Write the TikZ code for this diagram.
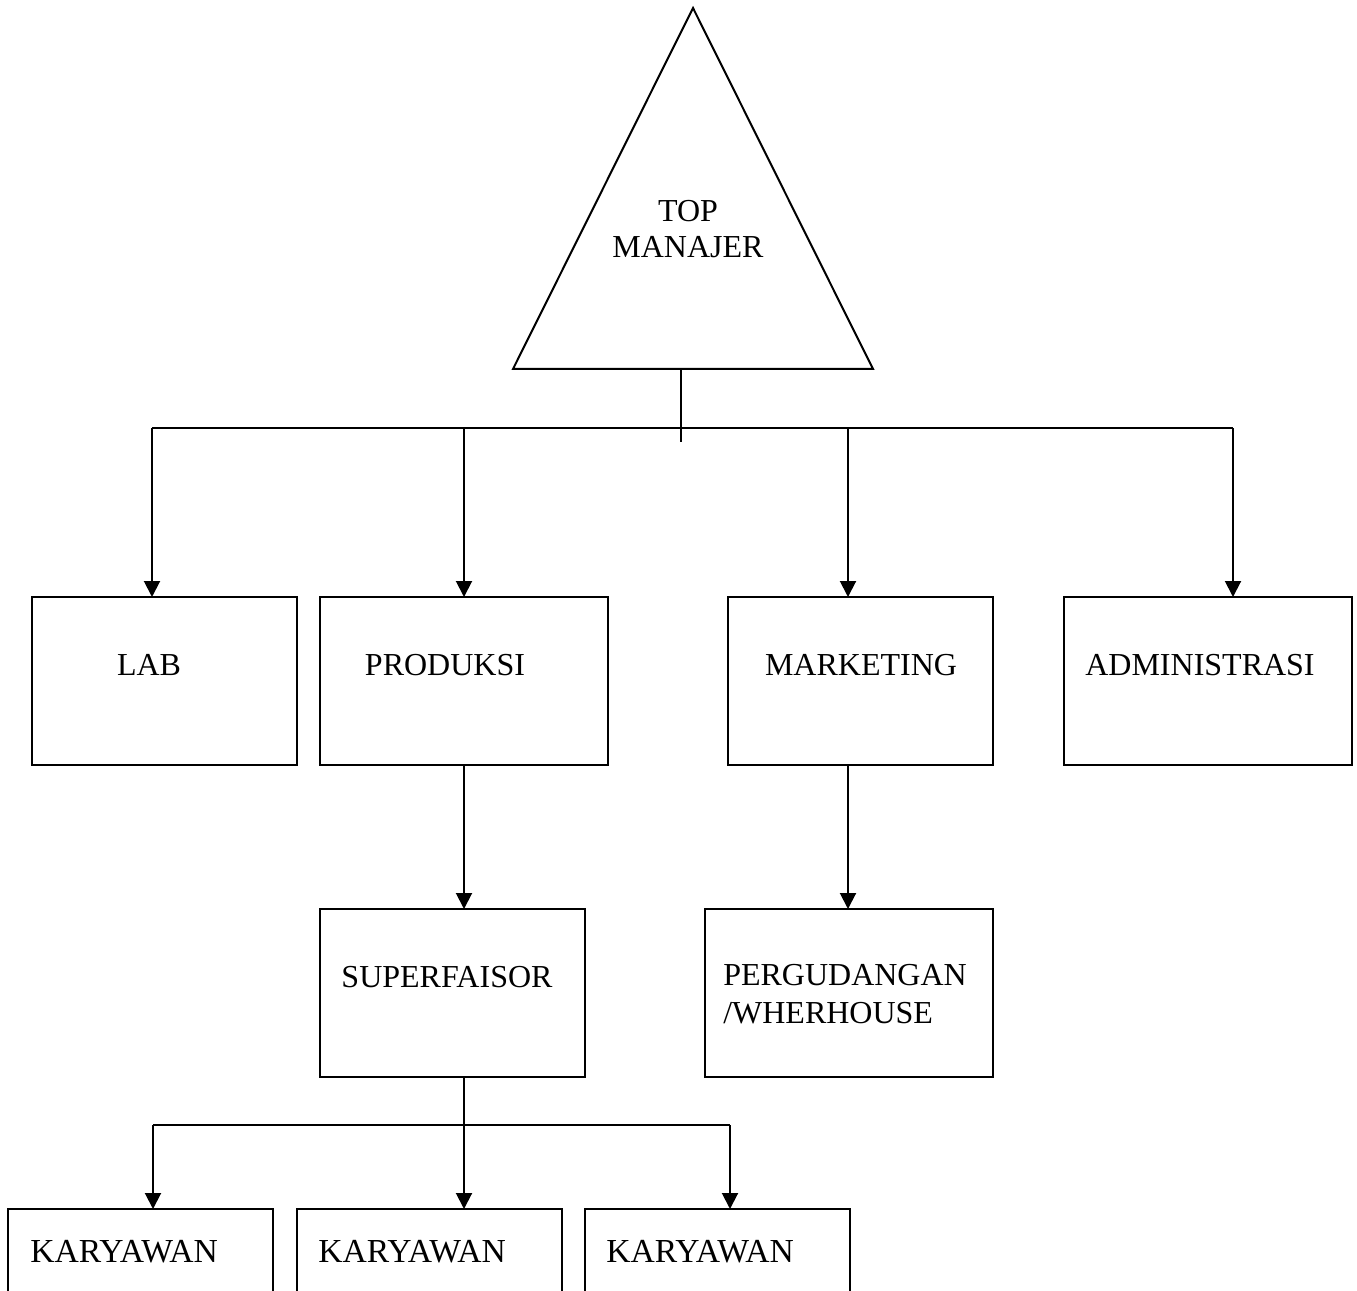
\documentclass[tikz,border=0pt]{standalone}
\usepackage{fontspec}
\setmainfont{Liberation Serif}
\usetikzlibrary{arrows.meta}
\tikzset{
  box/.style={draw, line width=1.5pt, inner sep=0pt, outer sep=0pt, minimum height=126pt},
  wbox/.style={box, minimum width=198.75pt},
  nbox/.style={box, minimum width=216pt},
  kbox/.style={box, minimum width=198.75pt, minimum height=67.5pt},
  lbl/.style={inner sep=0pt, font=\fontsize{24}{27}\selectfont, align=left},
  klbl/.style={lbl, anchor=west, font=\fontsize{25.2}{27}\selectfont},
  conn/.style={line width=1.5pt},
  arr/.style={line width=1.5pt, -{Triangle[width=12pt,length=12pt]}}
}
\begin{document}
\begin{tikzpicture}[x=0.75pt,y=-0.75pt]
\clip (0,0) rectangle (1357,1291);
\fill[white] (0,0) rectangle (1357,1291);
% triangle
\coordinate (apex) at (693,8);
\coordinate (bl) at (513,369);
\coordinate (br) at (873,369);
\draw[conn, line join=miter] (apex) -- (bl) -- (br) -- cycle;
\node[lbl, align=center] (top) at (688,229) {TOP\\MANAJER};
% boxes
\node[wbox] (lab) at (164.5,681) {};
\node[nbox] (prod) at (464,681) {};
\node[wbox] (mkt) at (860.5,681) {};
\node[nbox] (adm) at (1208,681) {};
\node[wbox] (sup) at (452.5,993) {};
\node[nbox] (gud) at (849,993) {};
\node[kbox] (k1) at (140.5,1254) {};
\node[kbox] (k2) at (429.5,1254) {};
\node[kbox] (k3) at (717.5,1254) {};
% labels
\node[lbl] (tlab) at (149,665) {LAB};
\node[lbl] (tprod) at (445,665) {PRODUKSI};
\node[lbl] (tmkt) at (861,665) {MARKETING};
\node[lbl] (tadm) at (1200,665) {ADMINISTRASI};
\node[lbl] (tsup) at (447,977) {SUPERFAISOR};
\node[lbl, anchor=west] (tgud) at (723,994) {PERGUDANGAN\\[1.5pt]/WHERHOUSE};
\node[klbl] (tk1) at (30,1252) {KARYAWAN};
\node[klbl] (tk2) at (318,1252) {KARYAWAN};
\node[klbl] (tk3) at (606,1252) {KARYAWAN};
% top bus
\coordinate (stemtop) at (681,369);
\coordinate (stembot) at (681,442);
\coordinate (busL) at (152,428);
\coordinate (busP) at (464,428);
\coordinate (busM) at (848,428);
\coordinate (busA) at (1233,428);
\draw[conn] (stemtop) -- (stembot);
\draw[conn] (busL) -- (busA);
\draw[arr] (busL) -- (busL |- lab.north);
\draw[arr] (busP) -- (busP |- prod.north);
\draw[arr] (busM) -- (busM |- mkt.north);
\draw[arr] (busA) -- (busA |- adm.north);
% middle
\draw[arr] (prod.south) -- (prod.south |- sup.north);
\coordinate (mk) at (848,765);
\draw[arr] (mk) -- (mk |- gud.north);
% bottom bus
\coordinate (sstem) at (464,1077);
\coordinate (bus1) at (153,1125);
\coordinate (bus2) at (464,1125);
\coordinate (bus3) at (730,1125);
\draw[conn] (bus1) -- (bus3);
\draw[arr] (sstem) -- (sstem |- k2.north);
\draw[arr] (bus1) -- (bus1 |- k1.north);
\draw[arr] (bus3) -- (bus3 |- k3.north);
\end{tikzpicture}
\end{document}
